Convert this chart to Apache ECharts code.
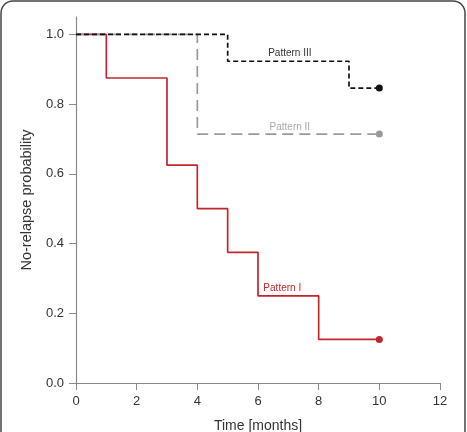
<!DOCTYPE html>
<html><head><meta charset="utf-8">
<script src="https://cdn.jsdelivr.net/npm/echarts@6/dist/echarts.min.js"></script>
<style>html,body{margin:0;padding:0;background:#fff}#c{width:467px;height:432px}</style>
</head><body><div id="c"></div>
<script>
const timesI = [0, 1, 3, 4, 5, 6, 8, 10];
const survI  = [1.0, 0.875, 0.625, 0.5, 0.375, 0.25, 0.125, 0.125];
const timesII = [0, 4, 10];
const survII  = [1.0, 0.714, 0.714];
const timesIII = [0, 5, 9, 10];
const survIII  = [1.0, 0.923, 0.846, 0.846];
const labelNames = ['Pattern I', 'Pattern II', 'Pattern III'];
const labelPos = [[6.8, 0.272], [7.05, 0.734], [7.05, 0.946]];
const xTicks = [0, 2, 4, 6, 8, 10, 12];
const yTicks = [0.0, 0.2, 0.4, 0.6, 0.8, 1.0];

const colors = ['#c0272d', '#9a9a9a', '#111111'];
const lineTypes = ['solid', [11, 6], [5, 3]];
const labelColors = ['#c0272d', '#aaaaaa', '#333333'];

function pts(t, s) { return t.map((v, i) => [v, s[i]]); }
const sets = [pts(timesI, survI), pts(timesII, survII), pts(timesIII, survIII)];

const series = [];
[0, 1, 2].forEach(k => {
  series.push({
    type: 'line', step: 'end', data: sets[k], symbol: 'none',
    lineStyle: { color: colors[k], width: 1.7, type: lineTypes[k] },
    z: 2 + k
  });
  const last = sets[k][sets[k].length - 1];
  series.push({
    type: 'scatter', data: [last], symbol: 'circle', symbolSize: 7,
    itemStyle: { color: colors[k], opacity: 1 }, z: 6
  });
  series.push({
    type: 'scatter', data: [labelPos[k]], symbol: 'circle', symbolSize: 2,
    itemStyle: { color: 'rgba(255,255,255,0)' }, z: 7, silent: true,
    label: { show: true, position: 'inside', formatter: labelNames[k], color: labelColors[k],
      fontSize: 10, fontFamily: 'Liberation Sans, Arial', opacity: 1 }
  });
});

const chart = echarts.init(document.getElementById('c'));
chart.setOption({
  animation: false,
  grid: { left: 76, right: 27, top: 17, bottom: 49, containLabel: false, outerBoundsMode: 'none' },
  graphic: [{
    type: 'rect', shape: { x: 1, y: 1, width: 464, height: 460, r: 12 },
    style: { fill: 'none', stroke: '#444', lineWidth: 1.5 }, silent: true
  }],
  xAxis: {
    type: 'value', min: 0, max: 12, interval: 2,
    name: 'Time [months]', nameLocation: 'middle', nameGap: 36,
    nameTextStyle: { color: '#333', fontSize: 14, fontFamily: 'Liberation Sans, Arial' },
    axisLine: { onZero: false, lineStyle: { color: '#8a8a8a', width: 1.2 } },
    axisTick: { show: true, length: 7, lineStyle: { color: '#8a8a8a' } },
    axisLabel: { color: '#333', fontSize: 13, fontFamily: 'Liberation Sans, Arial', margin: 12,
      formatter: v => xTicks.includes(v) ? String(v) : '' },
    splitLine: { show: false }
  },
  yAxis: {
    type: 'value', min: 0, max: 1.05, interval: 0.2,
    name: 'No-relapse probability', nameLocation: 'middle', nameGap: 42,
    nameTextStyle: { color: '#333', fontSize: 14.5, fontFamily: 'Liberation Sans, Arial' },
    axisLine: { show: true, onZero: false, lineStyle: { color: '#8a8a8a', width: 1.2 } },
    axisTick: { show: true, length: 7, lineStyle: { color: '#8a8a8a' } },
    axisLabel: { color: '#333', fontSize: 13, fontFamily: 'Liberation Sans, Arial', margin: 12,
      showMaxLabel: false,
      formatter: v => yTicks.some(t => Math.abs(t - v) < 1e-6) ? v.toFixed(1) : '' },
    splitLine: { show: false }
  },
  series: series
});
</script></body></html>
